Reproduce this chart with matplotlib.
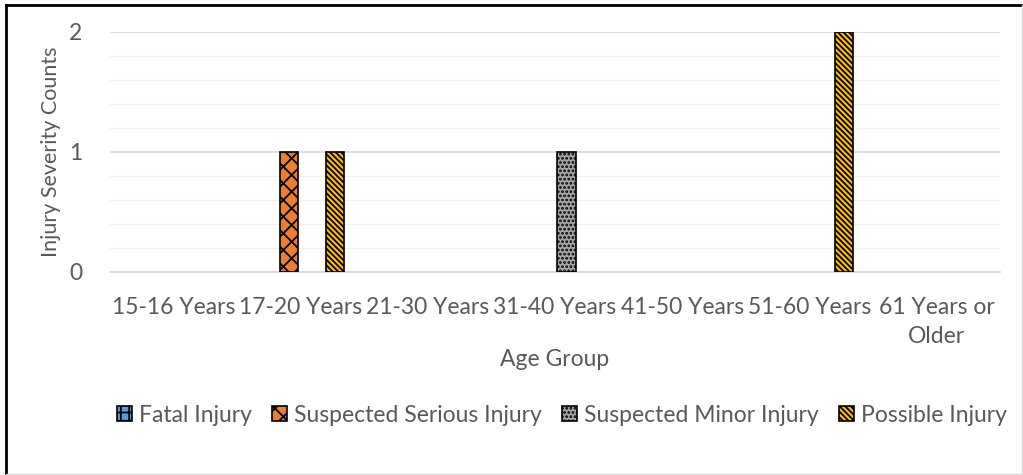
import numpy as np
import matplotlib.pyplot as plt
from matplotlib.lines import Line2D
from matplotlib.patches import Patch

categories = ['15-16 Years', '17-20 Years', '21-30 Years', '31-40 Years',
              '41-50 Years', '51-60 Years', '61 Years or\nOlder']
series = ['Fatal Injury', 'Suspected Serious Injury', 'Suspected Minor Injury', 'Possible Injury']
fatal = [0, 0, 0, 0, 0, 0, 0]
serious = [0, 1, 0, 0, 0, 0, 0]
minor = [0, 0, 0, 1, 0, 0, 0]
possible = [0, 1, 0, 0, 0, 2, 0]

colors = ['#5B9BD5', '#ED7D31', '#A5A5A5', '#FFC000']
hatches = ['++', 'xx', '....', '\\' * 6]
txt = '#595959'
fs = 16.5

plt.rcParams['font.family'] = ['Lato', 'DejaVu Sans']
plt.rcParams['hatch.linewidth'] = 1.3

fig = plt.figure(figsize=(10.23, 4.75), dpi=100)
ax = fig.add_axes([110 / 1023, 1 - 272 / 475, 890 / 1023, 240 / 475])

x = np.arange(len(categories))
step = 0.181
width = 0.142
handles = []
for i, (name, vals) in enumerate(zip(series, [fatal, serious, minor, possible])):
    bars = ax.bar(x + (i - 1.5) * step, vals, width, color=colors[i],
                  edgecolor='black', linewidth=1.2, hatch=hatches[i], zorder=3)
    for b, v in zip(bars, vals):
        if v == 0:
            b.set_visible(False)
    handles.append(Patch(facecolor=colors[i], edgecolor='black', hatch=hatches[i], linewidth=1.2))

ax.set_xlim(-0.5, len(categories) - 0.5)
ax.set_ylim(0, 2)
ax.set_yticks([0, 1, 2])
ax.set_yticks(np.arange(0, 2.01, 0.2), minor=True)
ax.grid(axis='y', which='major', color='#D9D9D9', linewidth=1.2, zorder=0)
ax.grid(axis='y', which='minor', color='#F0F0F0', linewidth=1.0, zorder=0)
for s in ['top', 'right', 'left']:
    ax.spines[s].set_visible(False)
ax.spines['bottom'].set_color('#D9D9D9')
ax.spines['bottom'].set_linewidth(1.2)
ax.tick_params(axis='both', which='both', length=0, labelcolor=txt, labelsize=fs)
ax.tick_params(axis='y', pad=20)
ax.tick_params(axis='x', pad=18)
ax.set_xticks(x)
ax.set_xticklabels(categories, linespacing=1.45)
ax.set_xlabel('Age Group', color=txt, fontsize=fs, labelpad=2)
ax.set_ylabel('Injury Severity Counts', color=txt, fontsize=15.5, labelpad=6)

leg = fig.legend(handles, series, loc='center', bbox_to_anchor=(562 / 1023, 1 - 415 / 475),
                 ncol=4, frameon=False, fontsize=fs, handlelength=0.65, handleheight=0.65,
                 handletextpad=0.3, columnspacing=0.9)
for t in leg.get_texts():
    t.set_color(txt)

# chart border
fig.add_artist(Line2D([6 / 1023, 6 / 1023], [0, 1 - 5 / 475], transform=fig.transFigure, color='black', lw=2))
fig.add_artist(Line2D([6 / 1023, 1], [1 - 5 / 475, 1 - 5 / 475], transform=fig.transFigure, color='black', lw=2))
fig.add_artist(Line2D([1022 / 1023, 1022 / 1023], [0, 1 - 5 / 475], transform=fig.transFigure, color='#D9D9D9', lw=1))
fig.add_artist(Line2D([6 / 1023, 1], [1 / 475, 1 / 475], transform=fig.transFigure, color='#D9D9D9', lw=1))

fig.savefig('out.png', dpi=100)
